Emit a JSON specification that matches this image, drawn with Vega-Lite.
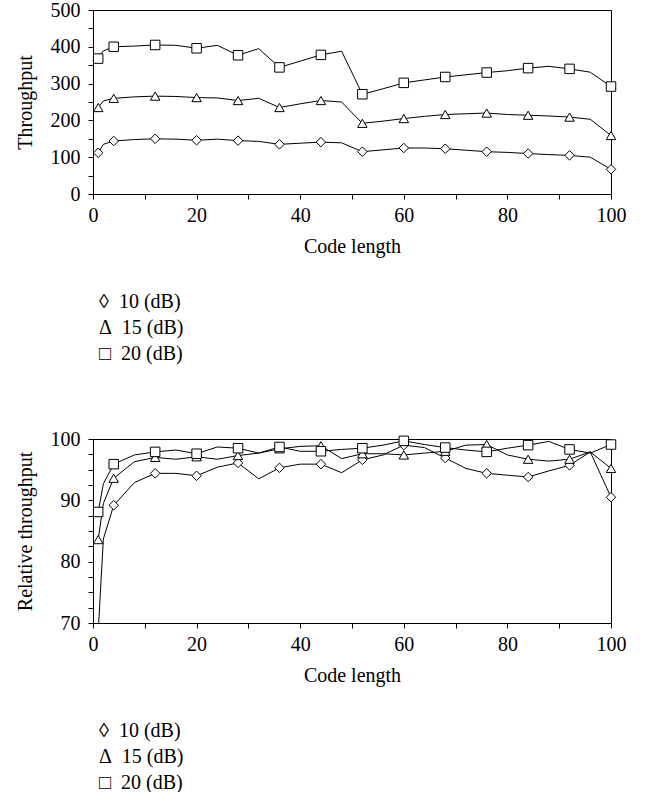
{
  "$schema": "https://vega.github.io/schema/vega-lite/v6.json",
  "padding": {"left": 14, "top": -1, "right": 5, "bottom": 0},
  "background": "white",
  "data": {"values": [
    {"len":1,"snr":"10 (dB)","thr":112,"rel":68.5},{"len":2,"snr":"10 (dB)","thr":135,"rel":83.7},{"len":4,"snr":"10 (dB)","thr":144,"rel":89.2},{"len":8,"snr":"10 (dB)","thr":148,"rel":92.9},{"len":12,"snr":"10 (dB)","thr":150,"rel":94.4},{"len":16,"snr":"10 (dB)","thr":149,"rel":94.4},{"len":20,"snr":"10 (dB)","thr":146,"rel":94.0},{"len":24,"snr":"10 (dB)","thr":149,"rel":95.4},{"len":28,"snr":"10 (dB)","thr":145,"rel":96.1},{"len":32,"snr":"10 (dB)","thr":143,"rel":93.5},{"len":36,"snr":"10 (dB)","thr":135,"rel":95.3},{"len":40,"snr":"10 (dB)","thr":138,"rel":95.9},{"len":44,"snr":"10 (dB)","thr":141,"rel":95.9},{"len":48,"snr":"10 (dB)","thr":139,"rel":94.5},{"len":52,"snr":"10 (dB)","thr":115,"rel":96.6},{"len":56,"snr":"10 (dB)","thr":120,"rel":97.4},{"len":60,"snr":"10 (dB)","thr":125,"rel":99.0},{"len":64,"snr":"10 (dB)","thr":125,"rel":98.6},{"len":68,"snr":"10 (dB)","thr":123,"rel":96.9},{"len":72,"snr":"10 (dB)","thr":119,"rel":95.2},{"len":76,"snr":"10 (dB)","thr":115,"rel":94.4},{"len":80,"snr":"10 (dB)","thr":113,"rel":94.1},{"len":84,"snr":"10 (dB)","thr":110,"rel":93.8},{"len":88,"snr":"10 (dB)","thr":107,"rel":94.8},{"len":92,"snr":"10 (dB)","thr":105,"rel":95.7},{"len":96,"snr":"10 (dB)","thr":100,"rel":97.9},{"len":100,"snr":"10 (dB)","thr":67,"rel":90.5},
    {"len":1,"snr":"15 (dB)","thr":235,"rel":83.6},{"len":2,"snr":"15 (dB)","thr":253,"rel":89.5},{"len":4,"snr":"15 (dB)","thr":260,"rel":93.6},{"len":8,"snr":"15 (dB)","thr":264,"rel":96.3},{"len":12,"snr":"15 (dB)","thr":266,"rel":97.0},{"len":16,"snr":"15 (dB)","thr":265,"rel":96.7},{"len":20,"snr":"15 (dB)","thr":262,"rel":97.1},{"len":24,"snr":"15 (dB)","thr":261,"rel":96.7},{"len":28,"snr":"15 (dB)","thr":254,"rel":97.3},{"len":32,"snr":"15 (dB)","thr":260,"rel":97.7},{"len":36,"snr":"15 (dB)","thr":235,"rel":98.4},{"len":40,"snr":"15 (dB)","thr":245,"rel":98.8},{"len":44,"snr":"15 (dB)","thr":254,"rel":98.9},{"len":48,"snr":"15 (dB)","thr":250,"rel":96.8},{"len":52,"snr":"15 (dB)","thr":192,"rel":97.6},{"len":56,"snr":"15 (dB)","thr":198,"rel":97.6},{"len":60,"snr":"15 (dB)","thr":205,"rel":97.4},{"len":64,"snr":"15 (dB)","thr":211,"rel":97.7},{"len":68,"snr":"15 (dB)","thr":216,"rel":98.0},{"len":72,"snr":"15 (dB)","thr":218,"rel":99.0},{"len":76,"snr":"15 (dB)","thr":220,"rel":99.1},{"len":80,"snr":"15 (dB)","thr":216,"rel":97.4},{"len":84,"snr":"15 (dB)","thr":214,"rel":96.7},{"len":88,"snr":"15 (dB)","thr":212,"rel":96.4},{"len":92,"snr":"15 (dB)","thr":209,"rel":96.7},{"len":96,"snr":"15 (dB)","thr":203,"rel":97.9},{"len":100,"snr":"15 (dB)","thr":159,"rel":95.2},
    {"len":1,"snr":"20 (dB)","thr":368,"rel":88.1},{"len":2,"snr":"20 (dB)","thr":389,"rel":92.7},{"len":4,"snr":"20 (dB)","thr":400,"rel":95.9},{"len":8,"snr":"20 (dB)","thr":402,"rel":97.4},{"len":12,"snr":"20 (dB)","thr":405,"rel":97.9},{"len":16,"snr":"20 (dB)","thr":404,"rel":98.2},{"len":20,"snr":"20 (dB)","thr":396,"rel":97.6},{"len":24,"snr":"20 (dB)","thr":404,"rel":98.7},{"len":28,"snr":"20 (dB)","thr":377,"rel":98.5},{"len":32,"snr":"20 (dB)","thr":395,"rel":97.7},{"len":36,"snr":"20 (dB)","thr":344,"rel":98.7},{"len":40,"snr":"20 (dB)","thr":361,"rel":98.0},{"len":44,"snr":"20 (dB)","thr":378,"rel":98.0},{"len":48,"snr":"20 (dB)","thr":388,"rel":98.3},{"len":52,"snr":"20 (dB)","thr":271,"rel":98.5},{"len":56,"snr":"20 (dB)","thr":286,"rel":99.0},{"len":60,"snr":"20 (dB)","thr":302,"rel":99.7},{"len":64,"snr":"20 (dB)","thr":310,"rel":99.1},{"len":68,"snr":"20 (dB)","thr":318,"rel":98.6},{"len":72,"snr":"20 (dB)","thr":324,"rel":98.2},{"len":76,"snr":"20 (dB)","thr":330,"rel":97.9},{"len":80,"snr":"20 (dB)","thr":335,"rel":98.5},{"len":84,"snr":"20 (dB)","thr":342,"rel":99.0},{"len":88,"snr":"20 (dB)","thr":347,"rel":99.6},{"len":92,"snr":"20 (dB)","thr":340,"rel":98.3},{"len":96,"snr":"20 (dB)","thr":331,"rel":97.7},{"len":100,"snr":"20 (dB)","thr":292,"rel":99.1}
  ]},
  "config": {
    "view": {"stroke": "black", "strokeWidth": 1},
    "font": "Liberation Serif",
    "axis": {
      "grid": false, "domainColor": "black", "tickColor": "black", "tickSize": 5,
      "labelFont": "Liberation Serif", "labelFontSize": 20, "labelColor": "black",
      "titleFont": "Liberation Serif", "titleFontSize": 20, "titleFontWeight": "normal", "titleColor": "black",
      "labelOverlap": false, "labelFlush": false
    },
    "axisX": {"labelPadding": 6, "titlePadding": 11},
    "axisY": {"labelPadding": 8, "titlePadding": 15},
    "legend": {
      "orient": "none", "legendX": -16, "legendY": 282,
      "labelFont": "Liberation Serif", "labelFontSize": 20, "labelColor": "black",
      "symbolSize": 1, "symbolOpacity": 0, "rowPadding": 6, "labelOffset": 2
    }
  },
  "resolve": {"scale": {"shape": "independent"}, "legend": {"shape": "independent"}},
  "spacing": 63,
  "vconcat": [
    {
      "width": 518, "height": 184,
      "encoding": {
        "x": {"field": "len", "type": "quantitative", "scale": {"domain": [0, 100], "nice": false},
              "axis": {"title": "Code length", "values": [0,10,20,30,40,50,60,70,80,90,100], "labelExpr": "datum.value % 20 == 0 ? datum.label : ''"}},
        "y": {"field": "thr", "type": "quantitative", "scale": {"domain": [0, 500], "nice": false},
              "axis": {"title": "Throughput", "values": [0,50,100,150,200,250,300,350,400,450,500], "labelExpr": "datum.value % 100 == 0 ? datum.label : ''"}}
      },
      "layer": [
        {
          "mark": {"type": "line", "color": "black", "strokeWidth": 1},
          "encoding": {"detail": {"field": "snr"}}
        },
        {
          "transform": [{"filter": "datum.len == 1 || datum.len % 8 == 4"}],
          "mark": {"type": "point", "filled": true, "size": 90, "color": "white", "stroke": "black", "strokeWidth": 1, "opacity": 1},
          "encoding": {
            "shape": {"field": "snr", "type": "nominal",
                      "scale": {"domain": ["10 (dB)", "15 (dB)", "20 (dB)"], "range": ["diamond", "triangle-up", "square"]},
                      "legend": {"title": null,
                                 "labelExpr": "datum.label == '10 (dB)' ? '◊\u2002' + datum.label : datum.label == '15 (dB)' ? 'Δ\u2002' + datum.label : '□\u2002' + datum.label"}}
          }
        }
      ]
    },
    {
      "width": 518, "height": 184,
      "encoding": {
        "x": {"field": "len", "type": "quantitative", "scale": {"domain": [0, 100], "nice": false},
              "axis": {"title": "Code length", "values": [0,10,20,30,40,50,60,70,80,90,100], "labelExpr": "datum.value % 20 == 0 ? datum.label : ''"}},
        "y": {"field": "rel", "type": "quantitative", "scale": {"domain": [70, 100], "nice": false, "zero": false},
              "axis": {"title": "Relative throughput", "values": [70,72.5,75,77.5,80,82.5,85,87.5,90,92.5,95,97.5,100], "labelExpr": "datum.value % 10 == 0 ? datum.label : ''"}}
      },
      "layer": [
        {
          "mark": {"type": "line", "color": "black", "strokeWidth": 1, "clip": true},
          "encoding": {"detail": {"field": "snr"}}
        },
        {
          "transform": [{"filter": "(datum.len == 1 || datum.len % 8 == 4) && datum.rel >= 70"}],
          "mark": {"type": "point", "filled": true, "size": 90, "color": "white", "stroke": "black", "strokeWidth": 1, "opacity": 1},
          "encoding": {
            "shape": {"field": "snr", "type": "nominal",
                      "scale": {"domain": ["10 (dB)", "15 (dB)", "20 (dB)"], "range": ["diamond", "triangle-up", "square"]},
                      "legend": {"title": null,
                                 "labelExpr": "datum.label == '10 (dB)' ? '◊\u2002' + datum.label : datum.label == '15 (dB)' ? 'Δ\u2002' + datum.label : '□\u2002' + datum.label"}}
          }
        }
      ]
    }
  ]
}
